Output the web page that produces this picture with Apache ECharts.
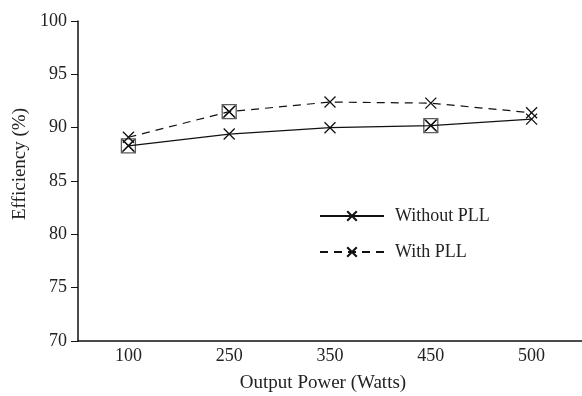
<!DOCTYPE html>
<html><head><meta charset="utf-8">
<script src="https://cdn.jsdelivr.net/npm/echarts@6/dist/echarts.min.js"></script>
<style>html,body{margin:0;padding:0;background:#fff}#c{width:582px;height:396px}</style>
</head><body><div id="c"></div>
<script>
const categories = ['100', '250', '350', '450', '500'];
const withoutPLL = [88.3, 89.4, 90.0, 90.2, 90.8];
const withPLL = [89.1, 91.5, 92.4, 92.3, 91.4];
const yTicks = [70, 75, 80, 85, 90, 95, 100];
// points drawn with an extra boxed marker: category indexes per series
const boxedWithout = [0, 3];
const boxedWith = [1];

const F = '"Liberation Serif", "DejaVu Serif", serif';
const xSym = 'path://M0,0L10,10M10,0L0,10';
const boxSym = 'path://M0,0L10,0L10,10L0,10ZM0,0L10,10M10,0L0,10';

const boxedData = boxedWithout.map(i => [i, withoutPLL[i]]).concat(boxedWith.map(i => [i, withPLL[i]]));

const chart = echarts.init(document.getElementById('c'));
chart.setOption({
  animation: false,
  textStyle: { fontFamily: F },
  grid: { left: 78, right: 0, top: 21, bottom: 55, outerBoundsMode: 'none', containLabel: false },
  legend: {
    orient: 'vertical', left: 314, top: 202, itemGap: 18,
    itemWidth: 64, itemHeight: 12,
    textStyle: { fontFamily: F, fontSize: 18, color: '#222', padding: [0, 0, 0, 6] },
    data: ['Without PLL', 'With PLL']
  },
  xAxis: {
    type: 'category', data: categories, boundaryGap: true,
    axisLine: { lineStyle: { color: '#111', width: 1.5 } },
    axisTick: { show: false },
    axisLabel: { fontFamily: F, fontSize: 18, color: '#222', margin: 6 },
    name: 'Output Power (Watts)', nameLocation: 'middle', nameGap: 33,
    nameTextStyle: { fontFamily: F, fontSize: 19, color: '#222', padding: [0, 14, 0, 0] }
  },
  yAxis: {
    type: 'value', min: yTicks[0], max: yTicks[yTicks.length - 1], interval: 5,
    splitLine: { show: false },
    axisLine: { show: true, lineStyle: { color: '#111', width: 1.5 } },
    axisTick: { show: true, length: 7, lineStyle: { color: '#111' } },
    axisLabel: { fontFamily: F, fontSize: 18, color: '#222', margin: 11 },
    name: 'Efficiency (%)', nameLocation: 'middle', nameGap: 46,
    nameTextStyle: { fontFamily: F, fontSize: 19, color: '#222', padding: [0, 0, 0, 34] }
  },
  series: [
    {
      name: 'Without PLL', type: 'line', data: withoutPLL,
      symbol: xSym, symbolSize: 11,
      lineStyle: { color: '#111', width: 1.2, type: 'solid' },
      itemStyle: { color: '#111', borderColor: '#111', borderWidth: 1.3 }
    },
    {
      name: 'With PLL', type: 'line', data: withPLL,
      symbol: xSym, symbolSize: 11,
      lineStyle: { color: '#111', width: 1.2, type: [8, 6] },
      itemStyle: { color: '#111', borderColor: '#111', borderWidth: 1.3 }
    },
    {
      name: 'boxed', type: 'scatter', data: boxedData,
      symbol: boxSym, symbolSize: 14, silent: true,
      itemStyle: { color: 'none', borderColor: '#333', borderWidth: 1.3 }
    }
  ]
});
</script></body></html>
